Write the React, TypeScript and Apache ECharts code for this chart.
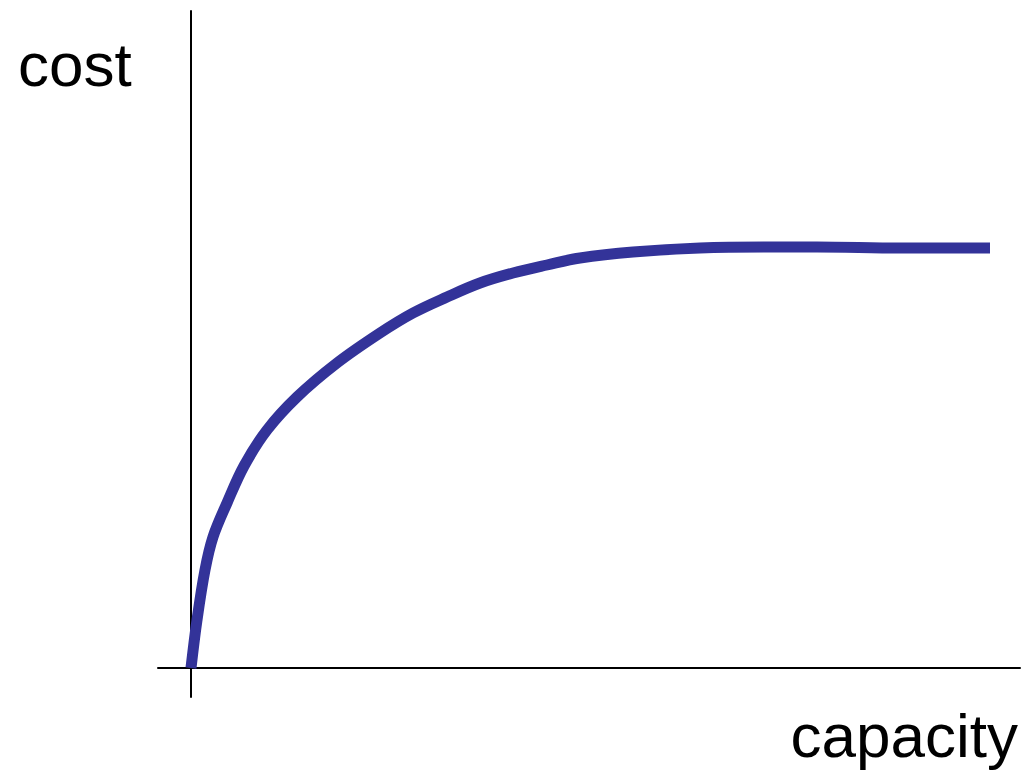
import React, { useEffect, useRef } from "react";
import * as echarts from "echarts";

// Curve (capacity vs cost, arbitrary units)
const capacity = [0, 6, 14, 22, 36, 53, 76, 106, 146, 189, 222, 256, 289, 322, 356, 389, 442, 509, 576, 626, 709, 799];
const cost = [0, 48, 98, 131, 165, 202, 238, 271, 305, 335, 355, 371, 385, 395, 403, 410, 416, 420, 421, 421, 420, 420];
const xLabel = "capacity";
const yLabel = "cost";

export default function App() {
  const ref = useRef<HTMLDivElement>(null);
  useEffect(() => {
    if (!ref.current) return;
    const chart = echarts.init(ref.current, undefined, { renderer: "svg" });
    const data = capacity.map((c, i) => [c, cost[i]]);
    chart.setOption({
      animation: false,
      backgroundColor: "#ffffff",
      grid: { left: 158, right: 1, top: 11, bottom: 74, containLabel: false },
      xAxis: {
        type: "value",
        min: -33,
        max: 829,
        axisLine: { show: true, onZero: true, lineStyle: { color: "#000", width: 2 } },
        axisTick: { show: false },
        axisLabel: { show: false },
        splitLine: { show: false },
      },
      yAxis: {
        type: "value",
        min: -29,
        max: 657,
        axisLine: { show: true, onZero: true, lineStyle: { color: "#000", width: 2 } },
        axisTick: { show: false },
        axisLabel: { show: false },
        splitLine: { show: false },
      },
      series: [
        {
          type: "line",
          data,
          smooth: 0.35,
          showSymbol: false,
          lineStyle: { color: "#333399", width: 11 },
        },
      ],
      graphic: [
        {
          type: "text",
          left: 18,
          top: 64.5 - 31,
          style: {
            text: yLabel,
            fontSize: 62,
            fontFamily: "Liberation Sans, Arial, sans-serif",
            fill: "#000",
          },
        },
        {
          type: "text",
          right: 3,
          top: 735.5 - 31,
          style: {
            text: xLabel,
            fontSize: 62,
            fontFamily: "Liberation Sans, Arial, sans-serif",
            fill: "#000",
          },
        },
      ],
    });
    return () => chart.dispose();
  }, []);
  return (
    <div
      ref={ref}
      style={{ position: "fixed", left: 0, top: 0, width: 1021, height: 771, background: "#fff" }}
    />
  );
}
